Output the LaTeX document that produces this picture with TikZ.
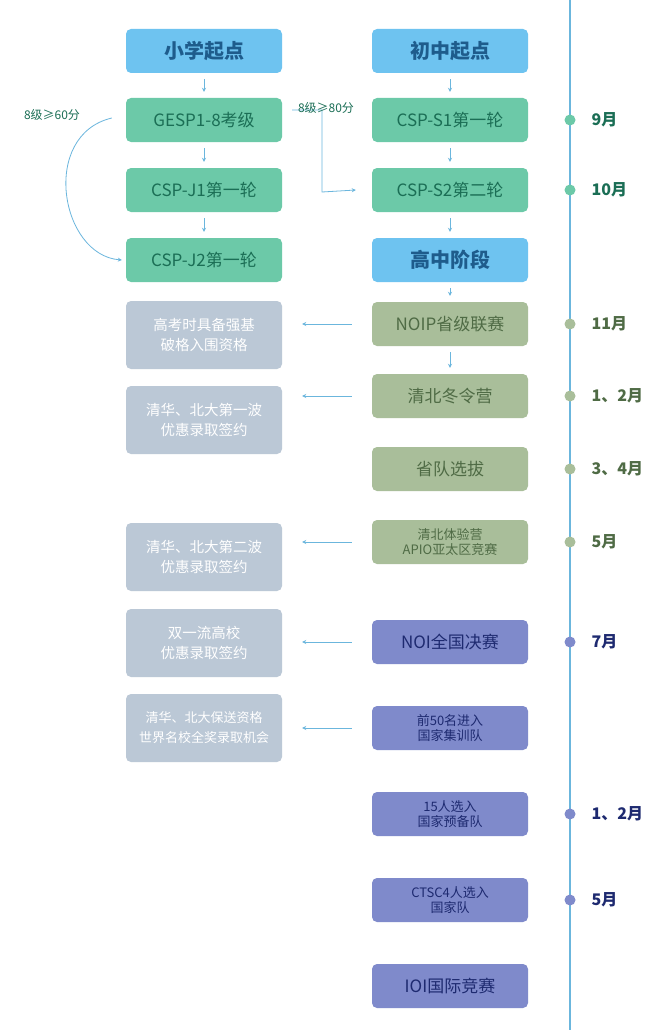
\documentclass[tikz,border=0pt]{standalone}
\usepackage{fontspec}
\setmainfont{Noto Sans CJK SC}
\usetikzlibrary{arrows.meta}
\definecolor{headfill}{HTML}{6EC3F0}
\definecolor{headtext}{HTML}{1E5C8C}
\definecolor{greenfill}{HTML}{6CC9A8}
\definecolor{greentext}{HTML}{1B6E55}
\definecolor{olivefill}{HTML}{A9BE9A}
\definecolor{olivetext}{HTML}{4F6B45}
\definecolor{greyfill}{HTML}{BBC8D6}
\definecolor{purplefill}{HTML}{7F8ACB}
\definecolor{purpletext}{HTML}{1E2A70}
\definecolor{linkblue}{HTML}{6BB6DD}
\begin{document}
\begin{tikzpicture}[
        x=1pt, y=-1pt,
        >={Stealth[length=4pt,width=4pt]},
        stagebox/.style={rounded corners=5pt, minimum width=156pt, minimum height=44pt, inner sep=1pt, align=center, font=\fontsize{17}{19}\selectfont},
        headbox/.style={stagebox, fill=headfill, text=headtext, font=\fontsize{20}{22}\selectfont\bfseries},
        greenbox/.style={stagebox, fill=greenfill, text=greentext},
        olivebox/.style={stagebox, fill=olivefill, text=olivetext},
        purplebox/.style={stagebox, fill=purplefill, text=purpletext},
        smalltext/.style={font=\fontsize{13}{15}\selectfont},
        greybox/.style={stagebox, fill=greyfill, text=white, minimum height=68pt, font=\fontsize{14.5}{20}\selectfont},
        link/.style={->, linkblue, line width=0.8pt},
        timedot/.style={circle, inner sep=0pt, minimum size=11pt},
        month/.style={font=\fontsize{16}{18}\selectfont\bfseries}
    ]
    \useasboundingbox[fill=white] (0,0) rectangle (660,1030);

    % timeline
    \draw[linkblue, line width=1.2pt] (570,0) -- (570,1030);

    % left column
    \node[headbox] (primary) at (204,51) {小学起点};
    \node[greenbox] (gesp) at (204,120) {GESP1-8考级};
    \node[greenbox] (j1) at (204,190) {CSP-J1第一轮};
    \node[greenbox] (j2) at (204,260) {CSP-J2第一轮};

    % right column
    \node[headbox] (junior) at (450,51) {初中起点};
    \node[greenbox] (s1) at (450,120) {CSP-S1第一轮};
    \node[greenbox] (s2) at (450,190) {CSP-S2第二轮};
    \node[headbox] (senior) at (450,260) {高中阶段};
    \node[olivebox] (noip) at (450,324) {NOIP省级联赛};
    \node[olivebox] (winter) at (450,396) {清北冬令营};
    \node[olivebox] (prov) at (450,469) {省队选拔};
    \node[olivebox, smalltext] (apio) at (450,542) {清北体验营\\APIO亚太区竞赛};
    \node[purplebox] (noi) at (450,642) {NOI全国决赛};
    \node[purplebox, smalltext] (top50) at (450,728) {前50名进入\\国家集训队};
    \node[purplebox, smalltext] (top15) at (450,814) {15人选入\\国家预备队};
    \node[purplebox, smalltext] (ctsc) at (450,900) {CTSC4人选入\\国家队};
    \node[purplebox] (ioi) at (450,986) {IOI国际竞赛};

    % rewards
    \node[greybox] (qiangji) at (204,335) {高考时具备强基\\破格入围资格};
    \node[greybox] (wave1) at (204,420) {清华、北大第一波\\优惠录取签约};
    \node[greybox] (wave2) at (204,557) {清华、北大第二波\\优惠录取签约};
    \node[greybox] (dual) at (204,643) {双一流高校\\优惠录取签约};
    \node[greybox, font=\fontsize{13}{20}\selectfont] (admit) at (204,728) {清华、北大保送资格\\世界名校全奖录取机会};

    % arrows down
    \foreach \a/\b in {primary/gesp, gesp/j1, j1/j2, junior/s1, s1/s2, s2/senior, senior/noip, noip/winter}
        \draw[link] ([yshift=-6pt]\a.south) -- ([yshift=6pt]\b.north);

    % arrows to rewards
    \foreach \a/\b in {noip/qiangji, winter/wave1, apio/wave2, noi/dual, top50/admit}
        \draw[link] ([xshift=-20pt]\a.west |- \a.center) -- ([xshift=20pt]\b.east |- \a.center);

    % shortcuts
    \coordinate (gespout) at ([xshift=10pt,yshift=10pt]gesp.east);
    \draw[link] (gespout) -| (322,192) -- ([xshift=-16pt]s2.west);
    \node[greentext, font=\fontsize{12}{14}\selectfont] (s80) at (326,108) {8级≥80分};
    \coordinate (gespleft) at ([xshift=-14pt,yshift=2pt]gesp.west);
    \draw[link] (gespleft) .. controls (40,135) and (60,255) .. ([xshift=-4pt]j2.west);
    \node[greentext, font=\fontsize{12}{14}\selectfont] (s60) at (52,115) {8级≥60分};

    % months
    \foreach \y/\m/\c/\t in {120/9月/greenfill/greentext, 190/10月/greenfill/greentext,
            324/11月/olivefill/olivetext, 396/1、2月/olivefill/olivetext, 469/3、4月/olivefill/olivetext,
            542/5月/olivefill/olivetext, 642/7月/purplefill/purpletext, 814/1、2月/purplefill/purpletext,
            900/5月/purplefill/purpletext}{
        \node[timedot, fill=\c] (dot\y) at (570,\y) {};
        \node[month, anchor=west, text=\t] (m\y) at (588,\y) {\m};
    }
\end{tikzpicture}
\end{document}
